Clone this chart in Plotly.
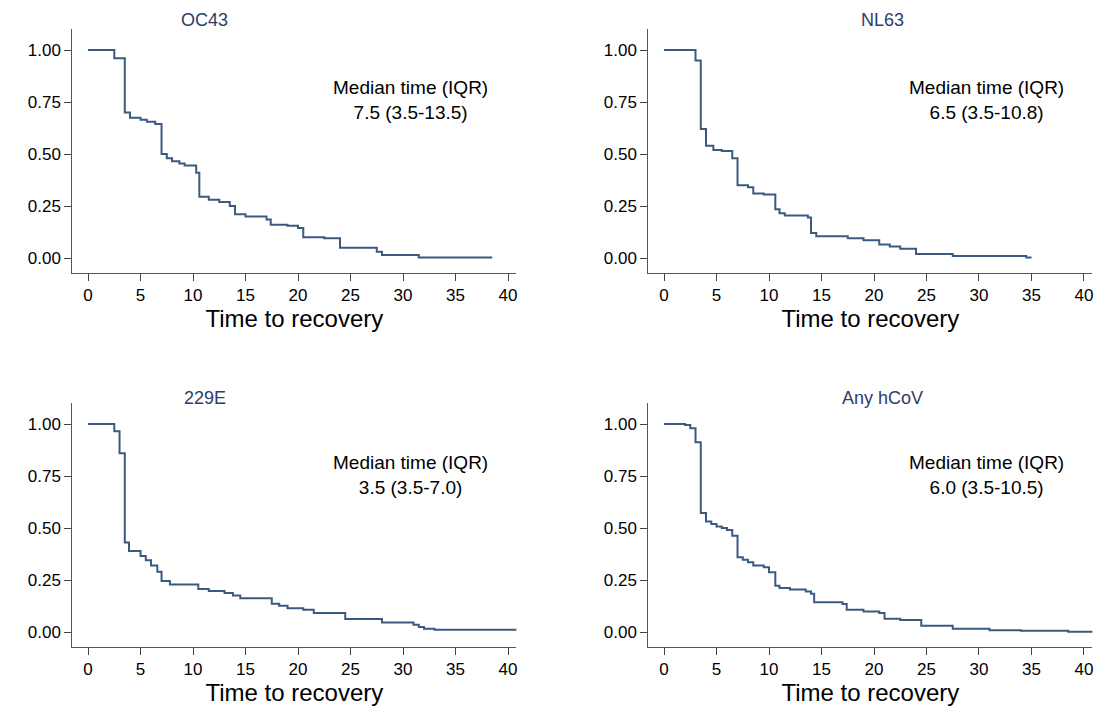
import plotly.graph_objects as go
from plotly.subplots import make_subplots

# Kaplan-Meier style step curves
oc43_t = [0, 2.5, 3.5, 4.0, 5.0, 5.6, 6.4, 7.0, 7.5, 8.0, 8.7, 9.2, 10.3, 10.6, 11.5, 12.5, 13.5, 14.0, 15.0, 17.0, 17.4, 19.0, 20.0, 20.5, 22.5, 24.0, 27.5, 28.0, 31.5, 38.5]
oc43_s = [1.0, 0.96, 0.70, 0.675, 0.665, 0.655, 0.645, 0.50, 0.48, 0.465, 0.455, 0.445, 0.41, 0.295, 0.28, 0.27, 0.25, 0.21, 0.20, 0.185, 0.16, 0.155, 0.145, 0.10, 0.095, 0.05, 0.03, 0.015, 0.003, 0.003]

nl63_t = [0, 3.0, 3.5, 4.0, 4.7, 5.5, 6.5, 7.0, 8.0, 8.5, 9.5, 10.6, 11.0, 11.5, 13.7, 14.0, 14.5, 17.5, 19.0, 20.5, 21.5, 22.5, 24.0, 27.5, 34.5, 35.0]
nl63_s = [1.0, 0.95, 0.62, 0.54, 0.52, 0.515, 0.48, 0.35, 0.34, 0.31, 0.305, 0.235, 0.215, 0.205, 0.195, 0.12, 0.105, 0.095, 0.085, 0.065, 0.055, 0.045, 0.02, 0.01, 0.003, 0.003]

e229_t = [0, 2.5, 3.0, 3.5, 3.9, 5.0, 5.5, 6.0, 6.6, 7.0, 7.8, 10.5, 11.5, 13.0, 13.8, 14.5, 17.5, 18.2, 19.0, 20.5, 21.5, 24.5, 28.0, 31.0, 31.5, 32.0, 33.0, 41.0]
e229_s = [1.0, 0.965, 0.86, 0.43, 0.39, 0.365, 0.345, 0.32, 0.29, 0.245, 0.228, 0.207, 0.197, 0.188, 0.176, 0.163, 0.136, 0.127, 0.115, 0.107, 0.091, 0.063, 0.046, 0.035, 0.024, 0.016, 0.011, 0.006]

any_t = [0, 2.0, 2.5, 3.0, 3.5, 4.0, 4.5, 5.0, 5.5, 6.0, 6.5, 7.0, 7.5, 8.0, 8.5, 9.5, 10.0, 10.6, 11.0, 12.0, 13.5, 14.0, 14.3, 17.0, 17.4, 19.0, 20.5, 21.0, 22.5, 24.5, 27.5, 31.0, 34.0, 38.5, 41.0]
any_s = [1.0, 0.995, 0.98, 0.912, 0.572, 0.532, 0.52, 0.508, 0.50, 0.49, 0.463, 0.359, 0.348, 0.335, 0.32, 0.312, 0.287, 0.223, 0.212, 0.205, 0.195, 0.184, 0.143, 0.135, 0.107, 0.099, 0.091, 0.064, 0.058, 0.03, 0.016, 0.009, 0.006, 0.002, 0.002]

titles = ["OC43", "NL63", "229E", "Any hCoV"]
medians = ["7.5 (3.5-13.5)", "6.5 (3.5-10.8)", "3.5 (3.5-7.0)", "6.0 (3.5-10.5)"]
curves = [(oc43_t, oc43_s), (nl63_t, nl63_s), (e229_t, e229_s), (any_t, any_s)]

fig = make_subplots(rows=2, cols=2)
xdom = [[0.0585, 0.4626], [0.5826, 0.9867]]
ydom = [[0.6236, 0.9698], [0.0916, 0.4378]]
title_x = [0.179, 0.796]
title_y = [1.0, 0.4452]
title_anchor = ["top", "middle"]
med_x = [0.366, 0.89]
med_y = [0.869, 0.3357]
line_col = "#3a5a80"

for i, (t, s) in enumerate(curves):
    r, c = i // 2 + 1, i % 2 + 1
    fig.add_trace(go.Scatter(x=t, y=s, mode="lines", line_shape="hv",
                             line=dict(color=line_col, width=2), showlegend=False), row=r, col=c)
    n = "" if i == 0 else str(i + 1)
    fig.layout["xaxis" + n].update(domain=xdom[c - 1])
    fig.layout["yaxis" + n].update(domain=ydom[r - 1])
    fig.add_annotation(x=title_x[c - 1], y=title_y[r - 1], xref="paper", yref="paper",
                       text=titles[i], showarrow=False, xanchor="center",
                       yanchor=title_anchor[r - 1], font=dict(size=18, color="#2e3c6a"))
    fig.add_annotation(x=med_x[c - 1], y=med_y[r - 1], xref="paper", yref="paper",
                       text="Median time (IQR)<br>" + medians[i], xanchor="center",
                       yanchor="middle", showarrow=False,
                       font=dict(size=19, color="black"), align="center")

fig.update_xaxes(range=[-1.5, 40.8], tickvals=[0, 5, 10, 15, 20, 25, 30, 35, 40],
                 ticks="outside", ticklen=7, showline=True, linecolor="#555", showgrid=False,
                 zeroline=False, tickfont=dict(size=17, color="black"), automargin=False,
                 title=dict(text="Time to recovery", font=dict(size=24, color="black"), standoff=3))
fig.update_yaxes(range=[-0.07, 1.1], tickvals=[0, 0.25, 0.5, 0.75, 1.0],
                 ticktext=["0.00", "0.25", "0.50", "0.75", "1.00"], automargin=False,
                 ticks="outside", ticklen=7, showline=True, linecolor="#555", showgrid=False,
                 zeroline=False, tickfont=dict(size=17, color="black"))

fig.update_layout(width=1099, height=703, margin=dict(l=0, r=0, t=0, b=0),
                  plot_bgcolor="white", paper_bgcolor="white",
                  font=dict(family="Liberation Sans, Arial"))
fig.write_html("out.html")
